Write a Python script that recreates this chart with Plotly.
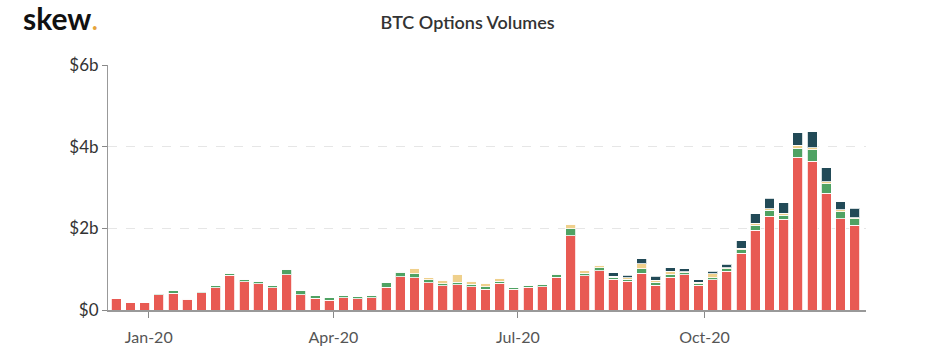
import plotly.graph_objects as go
import pandas as pd

weeks = pd.date_range("2019-12-16", periods=53, freq="7D")

# values in $ billions
deribit = [0.28, 0.19, 0.19, 0.375, 0.41, 0.26, 0.42, 0.55, 0.85, 0.69,
           0.64, 0.54, 0.865, 0.375, 0.29, 0.245, 0.30, 0.27, 0.30, 0.56,
           0.82, 0.79, 0.67, 0.595, 0.62, 0.57, 0.51, 0.65, 0.51, 0.555,
           0.57, 0.80, 1.82, 0.84, 0.96, 0.75, 0.70, 0.90, 0.61, 0.80,
           0.86, 0.605, 0.735, 0.955, 1.39, 1.95, 2.29, 2.22, 3.74, 3.64,
           2.86, 2.24, 2.07]
okex = [0.0, 0.0, 0.0, 0.04, 0.06, 0.025, 0.04, 0.04, 0.05, 0.06,
        0.065, 0.055, 0.13, 0.10, 0.065, 0.05, 0.05, 0.06, 0.05, 0.12,
        0.105, 0.10, 0.075, 0.05, 0.065, 0.055, 0.055, 0.055, 0.04, 0.05,
        0.05, 0.08, 0.17, 0.065, 0.075, 0.05, 0.055, 0.105, 0.075, 0.08,
        0.05, 0.04, 0.05, 0.055, 0.09, 0.12, 0.15, 0.10, 0.22, 0.28,
        0.235, 0.17, 0.165]
ledgerx = [0.0, 0.0, 0.0, 0.0, 0.0, 0.0, 0.0, 0.0, 0.0, 0.0,
           0.0, 0.0, 0.0, 0.0, 0.0, 0.0, 0.0, 0.0, 0.0, 0.0,
           0.03, 0.13, 0.05, 0.08, 0.19, 0.08, 0.09, 0.075, 0.0, 0.0,
           0.01, 0.015, 0.115, 0.065, 0.055, 0.025, 0.03, 0.13, 0.04, 0.075,
           0.025, 0.03, 0.105, 0.025, 0.03, 0.055, 0.035, 0.05, 0.08, 0.05,
           0.05, 0.05, 0.025]
cme = [0.0] * 35 + [0.09, 0.07, 0.12, 0.10, 0.08,
                    0.08, 0.06, 0.065, 0.09, 0.19, 0.23, 0.26, 0.26, 0.30, 0.40,
                    0.34, 0.19, 0.235]

series = [
    ("Deribit", deribit, "#e85a53"),
    ("OKEx", okex, "#4fa263"),
    ("LedgerX", ledgerx, "#efd08c"),
    ("CME", cme, "#224a57"),
]

fig = go.Figure()
for name, vals, col in series:
    fig.add_trace(go.Bar(
        x=weeks, y=[v * 1e9 for v in vals], name=name,
        marker=dict(color=col, line=dict(color="rgba(255,255,255,0.8)", width=1)),
    ))

fig.update_layout(
    barmode="stack",
    bargap=0.3,
    width=926, height=350,
    margin=dict(l=108, r=60, t=65, b=40),
    paper_bgcolor="white", plot_bgcolor="white",
    showlegend=False,
    font=dict(family="Lato", color="#333333"),
    title=dict(text="BTC Options Volumes", x=0.505, xref="container", xanchor="center",
               y=0.935, yref="container", yanchor="middle",
               font=dict(size=18, family="Lato", color="#333333", weight=600)),
    annotations=[dict(
        text="<b>skew</b><span style='color:#e6a43a'>.</span>",
        xref="paper", yref="paper", x=-0.115, y=1.19, xanchor="left", yanchor="middle",
        showarrow=False, font=dict(size=30, family="Lato", color="#111111"),
    )],
)
fig.update_xaxes(
    range=["2019-12-11 22:00", "2020-12-19 14:00"],
    tickvals=["2020-01-01", "2020-04-01", "2020-07-01", "2020-10-01"],
    ticktext=["Jan-20", "Apr-20", "Jul-20", "Oct-20"],
    ticks="outside", ticklen=6, tickcolor="#888888", tickwidth=1,
    showline=True, linecolor="#999999", linewidth=2,
    showgrid=False, zeroline=False,
    ticklabelstandoff=6, automargin=False,
    tickfont=dict(size=16, color="#555555"),
)
fig.update_yaxes(
    range=[0, 6e9],
    tickvals=[0, 2e9, 4e9, 6e9],
    ticktext=["$0", "$2b", "$4b", "$6b"],
    ticks="outside", ticklen=5, tickcolor="#888888",
    showline=True, linecolor="#999999", linewidth=1,
    showgrid=True, gridcolor="#e6e6e6", griddash="dash", gridwidth=1,
    zeroline=False, automargin=False,
    tickfont=dict(size=17, color="#333333"),
)

fig.write_html("out.html")
